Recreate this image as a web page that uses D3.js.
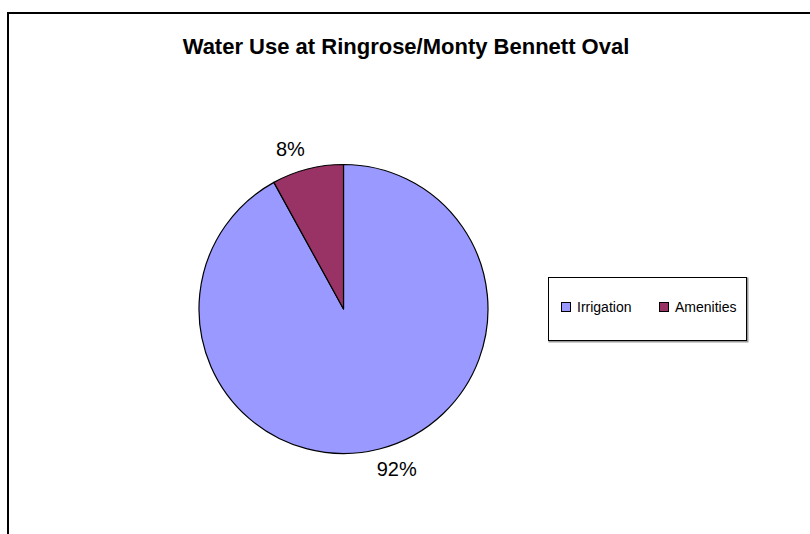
<!DOCTYPE html>
<html>
<head>
<meta charset="utf-8">
<script src="https://cdn.jsdelivr.net/npm/d3@7"></script>
<style>
  html, body { margin: 0; padding: 0; background: #fff; }
  svg { display: block; font-family: "Liberation Sans", Arial, sans-serif; }
</style>
</head>
<body>
<svg id="chart" width="810" height="534"></svg>
<script>
const title = "Water Use at Ringrose/Monty Bennett Oval";
const categories = ["Irrigation", "Amenities"];
const values = [92, 8];
const labels = ["92%", "8%"];
const colors = ["#9999FF", "#993366"];

const W = 810, H = 534;
const svg = d3.select("#chart");

// outer chart frame (extends past right/bottom edge)
svg.append("rect")
  .attr("x", 8).attr("y", 13)
  .attr("width", W + 20).attr("height", H + 20)
  .attr("fill", "#fff").attr("stroke", "#000").attr("stroke-width", 2);

// title
svg.append("text")
  .attr("x", 406).attr("y", 54)
  .attr("text-anchor", "middle")
  .attr("font-size", 22).attr("font-weight", "bold")
  .attr("fill", "#000")
  .text(title);

// pie
const cx = 343.5, cy = 309, r = 144.5;
const pie = d3.pie().sort(null).value(d => d)(values);
const arc = d3.arc().innerRadius(0).outerRadius(r);
const g = svg.append("g").attr("transform", `translate(${cx},${cy})`);

g.selectAll("path.slice")
  .data(pie)
  .join("path")
  .attr("class", "slice")
  .attr("d", arc)
  .attr("fill", (d, i) => colors[i])
  .attr("stroke", "#000")
  .attr("stroke-width", 1.2)
  .attr("stroke-linejoin", "round");

// data labels outside
const labelR = r + 24;
const labelShift = -4 * Math.PI / 180;
g.selectAll("text.lbl")
  .data(pie)
  .join("text")
  .attr("class", "lbl")
  .attr("x", d => labelR * Math.sin((d.startAngle + d.endAngle) / 2 + labelShift))
  .attr("y", d => -labelR * Math.cos((d.startAngle + d.endAngle) / 2 + labelShift))
  .attr("dy", "0.35em")
  .attr("text-anchor", "middle")
  .attr("font-size", 20)
  .attr("fill", "#000")
  .text((d, i) => labels[i]);

// legend
const lg = svg.append("g");
lg.append("rect")
  .attr("x", 549).attr("y", 278).attr("width", 198).attr("height", 63)
  .attr("fill", "none").attr("stroke", "#999").attr("stroke-width", 2)
  .attr("transform", "translate(0.5,0.5)");
lg.append("rect")
  .attr("x", 548.5).attr("y", 277.5).attr("width", 198).attr("height", 63)
  .attr("fill", "#fff").attr("stroke", "#000").attr("stroke-width", 1);

const legendX = d3.scaleOrdinal().domain(categories).range([561, 659]);
const items = lg.selectAll("g.item")
  .data(categories)
  .join("g")
  .attr("class", "item")
  .attr("transform", d => `translate(${legendX(d)},302)`);
items.append("rect")
  .attr("x", 0.5).attr("y", 0.5).attr("width", 9).attr("height", 9)
  .attr("fill", (d, i) => colors[i])
  .attr("stroke", "#000").attr("stroke-width", 1);
items.append("text")
  .attr("x", 16).attr("y", 10)
  .attr("font-size", 14)
  .attr("fill", "#000")
  .text(d => d);
</script>
</body>
</html>
